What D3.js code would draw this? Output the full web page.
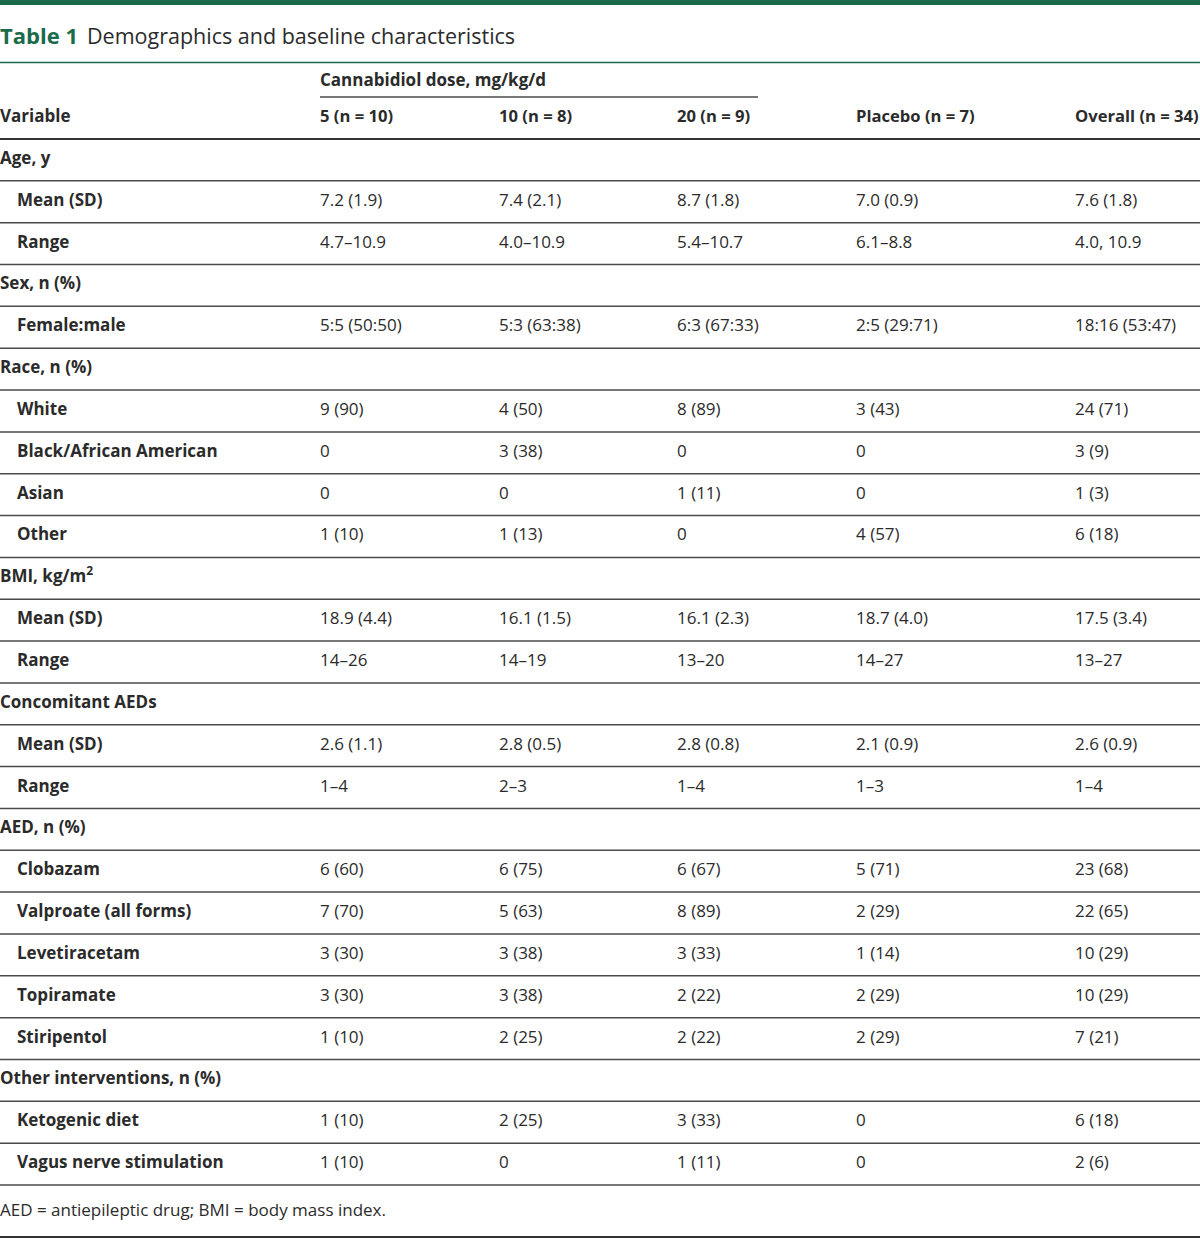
<!DOCTYPE html>
<html>
<head>
<meta charset="utf-8">
<script src="https://cdn.jsdelivr.net/npm/d3@7"></script>
<style>
  body { margin: 0; background: #fff; }
  text { font-family: "Open Sans", "Noto Sans", sans-serif; fill: #2b2b2b; }
</style>
</head>
<body>
<div id="chart"></div>
<script>
// column headers
var groupHeader = "Cannabidiol dose, mg/kg/d";
var columns = ["5 (n = 10)", "10 (n = 8)", "20 (n = 9)", "Placebo (n = 7)", "Overall (n = 34)"];

// row labels: level 0 = section, level 1 = sub item
var rowLabels = ["Age, y", "Mean (SD)", "Range", "Sex, n (%)", "Female:male", "Race, n (%)", "White",
  "Black/African American", "Asian", "Other", "BMI, kg/m", "Mean (SD)", "Range", "Concomitant AEDs",
  "Mean (SD)", "Range", "AED, n (%)", "Clobazam", "Valproate (all forms)", "Levetiracetam", "Topiramate",
  "Stiripentol", "Other interventions, n (%)", "Ketogenic diet", "Vagus nerve stimulation"];
var rowLevels = [0,1,1,0,1,0,1,1,1,1,0,1,1,0,1,1,0,1,1,1,1,1,0,1,1];

// cell values, one array per column
var dose5 = ["", "7.2 (1.9)", "4.7–10.9", "", "5:5 (50:50)", "", "9 (90)", "0", "0", "1 (10)", "",
  "18.9 (4.4)", "14–26", "", "2.6 (1.1)", "1–4", "", "6 (60)", "7 (70)", "3 (30)", "3 (30)", "1 (10)", "", "1 (10)", "1 (10)"];
var dose10 = ["", "7.4 (2.1)", "4.0–10.9", "", "5:3 (63:38)", "", "4 (50)", "3 (38)", "0", "1 (13)", "",
  "16.1 (1.5)", "14–19", "", "2.8 (0.5)", "2–3", "", "6 (75)", "5 (63)", "3 (38)", "3 (38)", "2 (25)", "", "2 (25)", "0"];
var dose20 = ["", "8.7 (1.8)", "5.4–10.7", "", "6:3 (67:33)", "", "8 (89)", "0", "1 (11)", "0", "",
  "16.1 (2.3)", "13–20", "", "2.8 (0.8)", "1–4", "", "6 (67)", "8 (89)", "3 (33)", "2 (22)", "2 (22)", "", "3 (33)", "1 (11)"];
var placebo = ["", "7.0 (0.9)", "6.1–8.8", "", "2:5 (29:71)", "", "3 (43)", "0", "0", "4 (57)", "",
  "18.7 (4.0)", "14–27", "", "2.1 (0.9)", "1–3", "", "5 (71)", "2 (29)", "1 (14)", "2 (29)", "2 (29)", "", "0", "0"];
var overall = ["", "7.6 (1.8)", "4.0, 10.9", "", "18:16 (53:47)", "", "24 (71)", "3 (9)", "1 (3)", "6 (18)", "",
  "17.5 (3.4)", "13–27", "", "2.6 (0.9)", "1–4", "", "23 (68)", "22 (65)", "10 (29)", "10 (29)", "7 (21)", "", "6 (18)", "2 (6)"];

var footnote = "AED = antiepileptic drug; BMI = body mass index.";

var width = 1200, height = 1239;
var green = "#1b6b4b", lineColor = "#4a4a4a";
var fs = "17px";

var svg = d3.select("#chart").append("svg")
  .attr("width", width)
  .attr("height", height);

// top band
svg.append("rect").attr("x", 0).attr("y", 0).attr("width", width).attr("height", 5).attr("fill", green);

// title
var title = svg.append("text").attr("x", 0).attr("y", 44).style("font-size", "22px");
title.append("tspan").text("Table 1").style("font-weight", 700).style("fill", green);
title.append("tspan").attr("x", 87).text("Demographics and baseline characteristics")
  .style("fill", "#2b2b2b").style("font-size", "21.5px");
svg.append("line").attr("x1", 0).attr("x2", width).attr("y1", 62.5).attr("y2", 62.5)
  .attr("stroke", green).attr("stroke-width", 1.5);

// column positions
var colX = d3.scaleOrdinal().domain(columns).range([320, 499, 677, 856, 1075]);

// row scale
var y = d3.scaleBand().domain(d3.range(rowLabels.length)).range([139, 1185]);

// header
svg.append("text").attr("x", 320).attr("y", 86).text(groupHeader)
  .style("font-size", fs).style("font-weight", 700);
svg.append("line").attr("x1", 320).attr("x2", 758).attr("y1", 97).attr("y2", 97)
  .attr("stroke", lineColor).attr("stroke-width", 1.5);
svg.append("text").attr("x", 0).attr("y", 122).text("Variable")
  .style("font-size", fs).style("font-weight", 700);
svg.selectAll(".colhead").data(columns).enter().append("text")
  .attr("class", "colhead")
  .attr("x", function(d) { return colX(d); })
  .attr("y", 122)
  .text(function(d) { return d; })
  .style("font-size", "16.6px").style("font-weight", 700);
svg.append("line").attr("x1", 0).attr("x2", width).attr("y1", 139).attr("y2", 139)
  .attr("stroke", "#333").attr("stroke-width", 2);

// rows
var rows = svg.selectAll(".row").data(rowLabels).enter().append("g")
  .attr("class", "row")
  .attr("transform", function(d, i) { return "translate(0," + y(i) + ")"; });

rows.append("line")
  .attr("x1", 0).attr("x2", width)
  .attr("y1", y.bandwidth()).attr("y2", y.bandwidth())
  .attr("stroke", lineColor).attr("stroke-width", 1.5);

var labels = rows.append("text")
  .attr("x", function(d, i) { return rowLevels[i] ? 17 : 0; })
  .attr("y", y.bandwidth() / 2 + 4)
  .style("font-size", fs).style("font-weight", 700)
  .text(function(d) { return d; });
labels.filter(function(d) { return d === "BMI, kg/m"; })
  .append("tspan").attr("dy", -7).style("font-size", "12px").text("2");

var series = [dose5, dose10, dose20, placebo, overall];
series.forEach(function(vals, c) {
  rows.append("text")
    .attr("x", colX(columns[c]))
    .attr("y", y.bandwidth() / 2 + 4)
    .style("font-size", fs)
    .text(function(d, i) { return vals[i]; });
});

// footnote
svg.append("text").attr("x", 0).attr("y", 1216).text(footnote).style("font-size", fs);
svg.append("line").attr("x1", 0).attr("x2", width).attr("y1", 1237).attr("y2", 1237)
  .attr("stroke", "#333").attr("stroke-width", 2);
</script>
</body>
</html>
